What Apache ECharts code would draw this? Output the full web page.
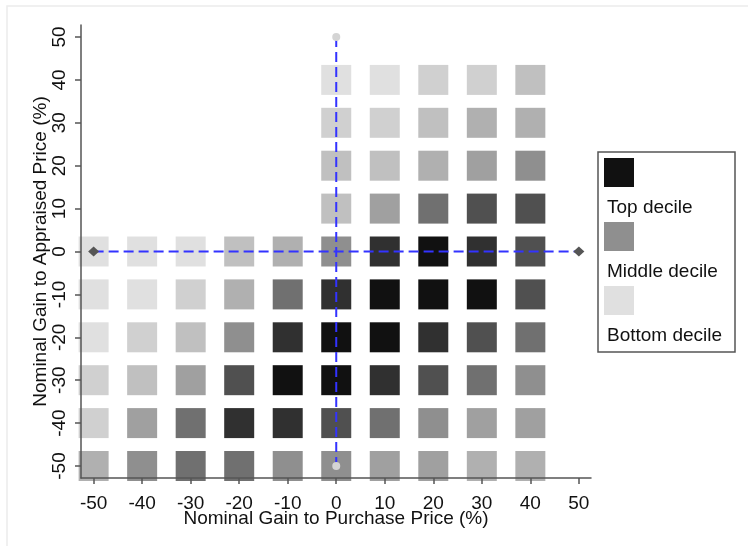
<!DOCTYPE html>
<html>
<head>
<meta charset="utf-8">
<script src="https://cdn.jsdelivr.net/npm/echarts@6/dist/echarts.min.js"></script>
<style>
html,body{margin:0;padding:0;background:#fff;}
#chart{width:748px;height:546px;}
</style>
</head>
<body>
<div id="chart"></div>
<script>
// x positions (Nominal Gain to Purchase Price, %)
const xVals = [-50, -40, -30, -20, -10, 0, 10, 20, 30, 40];
// y positions (Nominal Gain to Appraised Price, %), top row first
const yVals = [40, 30, 20, 10, 0, -10, -20, -30, -40, -50];
// decile rank for each cell (1 = top decile, 10 = bottom decile), null = no cell
const decileRows = [
  [null, null, null, null, null, 10, 10, 9, 9, 8],
  [null, null, null, null, null, 9, 9, 8, 7, 7],
  [null, null, null, null, null, 8, 8, 7, 6, 5],
  [null, null, null, null, null, 8, 6, 4, 3, 3],
  [10, 10, 10, 8, 7, 5, 2, 1, 2, 3],
  [10, 10, 9, 7, 4, 2, 1, 1, 1, 3],
  [10, 9, 8, 5, 2, 1, 1, 2, 3, 4],
  [9, 8, 6, 3, 1, 1, 2, 3, 4, 5],
  [9, 6, 4, 2, 2, 3, 4, 5, 6, 6],
  [7, 5, 4, 4, 5, 5, 6, 6, 7, 7]
];
const tickValues = [-50, -40, -30, -20, -10, 0, 10, 20, 30, 40, 50];
const vLine = [[0, 50], [0, -50]];
const hLine = [[-50, 0], [50, 0]];
const vEnds = [[0, 50], [0, -50]];
const hEnds = [[-50, 0], [50, 0]];
const legendLabels = ['Top decile', 'Middle decile', 'Bottom decile'];

const palette = ['#111111', '#303030', '#505050', '#707070', '#8f8f8f',
                 '#a0a0a0', '#b0b0b0', '#c0c0c0', '#d0d0d0', '#e0e0e0'];

const cells = [];
decileRows.forEach((row, ri) => {
  row.forEach((d, ci) => {
    if (d !== null) cells.push([xVals[ci], yVals[ri], d]);
  });
});

const FONT = 'Liberation Sans, Arial, sans-serif';
const axisLineStyle = { color: '#555', width: 1.5 };

const chart = echarts.init(document.getElementById('chart'), null, { renderer: 'canvas' });
chart.setOption({
  animation: false,
  backgroundColor: '#fff',
  grid: { left: 81, right: 157, top: 25, bottom: 68, containLabel: false },
  xAxis: {
    type: 'value', min: -52.6, max: 52.5, z: 5,
    axisLine: { show: true, onZero: false, lineStyle: axisLineStyle },
    axisTick: { show: true, length: 6, lineStyle: axisLineStyle, customValues: tickValues },
    axisLabel: { customValues: tickValues, fontSize: 19, color: '#111', fontFamily: FONT, margin: 16 },
    splitLine: { show: false },
    name: 'Nominal Gain to Purchase Price (%)',
    nameLocation: 'middle', nameGap: 31, nameMoveOverlap: false,
    nameTextStyle: { fontSize: 19, color: '#111', fontFamily: FONT }
  },
  yAxis: {
    type: 'value', min: -52.8, max: 52.8, z: 5,
    axisLine: { show: true, onZero: false, lineStyle: axisLineStyle },
    axisTick: { show: true, length: 6, lineStyle: axisLineStyle, customValues: tickValues },
    axisLabel: { customValues: tickValues, rotate: 90, fontSize: 19, color: '#111', fontFamily: FONT, margin: 12 },
    splitLine: { show: false },
    name: 'Nominal Gain to Appraised Price (%)',
    nameLocation: 'middle', nameGap: 31, nameMoveOverlap: false,
    nameTextStyle: { fontSize: 19, color: '#111', fontFamily: FONT }
  },
  series: [
    {
      type: 'scatter',
      symbol: 'rect',
      symbolSize: 30,
      data: cells,
      itemStyle: { color: p => palette[p.value[2] - 1], opacity: 1 },
      emphasis: { disabled: true }
    },
    {
      type: 'line', data: vLine, symbol: 'none', z: 6,
      lineStyle: { color: '#3333ff', width: 2, type: [10, 5] }
    },
    {
      type: 'line', data: hLine, symbol: 'none', z: 6,
      lineStyle: { color: '#3333ff', width: 2, type: [10, 5] }
    },
    {
      type: 'scatter', data: vEnds, symbol: 'circle', symbolSize: 8, z: 7,
      itemStyle: { color: '#d4d4d4', opacity: 1 }
    },
    {
      type: 'scatter', data: hEnds, symbol: 'diamond', symbolSize: [11, 10], z: 7,
      itemStyle: { color: '#555555', opacity: 1 }
    }
  ],
  graphic: [
    { type: 'rect', shape: { x: 7, y: 6, width: 800, height: 600 },
      style: { fill: 'none', stroke: '#ececec', lineWidth: 1.5 }, silent: true },
    { type: 'rect', shape: { x: 598, y: 152, width: 137, height: 200 },
      style: { fill: '#fff', stroke: '#555', lineWidth: 1.5 } },
    { type: 'rect', shape: { x: 604, y: 158, width: 30, height: 29 }, style: { fill: palette[0] } },
    { type: 'text', x: 607, y: 208, style: { text: legendLabels[0], font: '19px ' + FONT, fill: '#111', verticalAlign: 'middle' } },
    { type: 'rect', shape: { x: 604, y: 222, width: 30, height: 29 }, style: { fill: palette[4] } },
    { type: 'text', x: 607, y: 272, style: { text: legendLabels[1], font: '19px ' + FONT, fill: '#111', verticalAlign: 'middle' } },
    { type: 'rect', shape: { x: 604, y: 286, width: 30, height: 29 }, style: { fill: palette[9] } },
    { type: 'text', x: 607, y: 336, style: { text: legendLabels[2], font: '19px ' + FONT, fill: '#111', verticalAlign: 'middle' } }
  ]
});
</script>
</body>
</html>
